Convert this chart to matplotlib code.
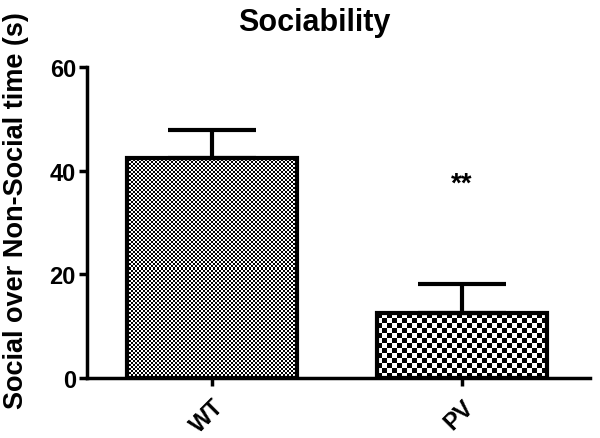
import numpy as np
import matplotlib
matplotlib.use('Agg')
import matplotlib.pyplot as plt

# data
groups = ['WT', 'PV']
means = [42.5, 12.5]
sems = [5.3, 5.7]
cell_px = [2, 5]  # checker size of each bar's fill, in pixels
star_text = '**'
star_y = 37.5

plt.rcParams['font.family'] = ['Liberation Sans', 'DejaVu Sans']
plt.rcParams['font.weight'] = 'bold'

fig = plt.figure(figsize=(6, 4.39), dpi=100, facecolor='w')
ax = fig.add_axes([0.145, 0.137, 0.838, 0.708])

x = np.arange(len(groups))
width = 0.68
ax.set_xlim(-0.5, 1.512)
ax.set_ylim(0, 60)

bars = ax.bar(x, means, width=width, facecolor='none', edgecolor='black',
              linewidth=3, zorder=3)
ax.errorbar(x, means, yerr=[np.zeros(len(sems)), sems], fmt='none',
            ecolor='black', elinewidth=3, capsize=32, capthick=3, zorder=2)

# checkerboard fill, clipped to each bar
fig.canvas.draw()
for bar, c in zip(bars, cell_px):
    x0, y0 = bar.get_x(), bar.get_y()
    x1, y1 = x0 + bar.get_width(), y0 + bar.get_height()
    p0 = ax.transData.transform((x0, y0))
    p1 = ax.transData.transform((x1, y1))
    nx = max(int(round((p1[0] - p0[0]) / c)), 1)
    ny = max(int(round((p1[1] - p0[1]) / c)), 1)
    board = (np.add.outer(np.arange(ny), np.arange(nx)) % 2).astype(float)
    im = ax.imshow(board, cmap='gray', vmin=0.05, vmax=0.95, extent=(x0, x1, y0, y1),
                   aspect='auto', interpolation='nearest', zorder=1)
    im.set_clip_path(bar)

ax.text(1, star_y, star_text, ha='center', va='center', fontsize=20,
        fontweight='bold')

ax.set_xticks(x)
ax.set_xticklabels(groups, rotation=45, ha='right', rotation_mode='anchor',
                   fontsize=17, fontweight='bold')
ax.set_yticks([0, 20, 40, 60])
ax.tick_params(axis='y', labelsize=17, width=2.5, length=6, pad=2)
ax.tick_params(axis='x', width=2.5, length=6, pad=6)
for lbl in ax.get_yticklabels():
    lbl.set_fontweight('bold')

ax.spines['top'].set_visible(False)
ax.spines['right'].set_visible(False)
ax.spines['left'].set_linewidth(2.5)
ax.spines['bottom'].set_linewidth(2.5)

ax.set_ylabel('Social over Non-Social time (s)', fontsize=19.5, fontweight='bold')
ax.yaxis.set_label_coords(-0.115, 0.54)
ax.set_title('Sociability', fontsize=22, fontweight='bold', x=0.453, pad=27)

fig.savefig('out.png', dpi=100)
